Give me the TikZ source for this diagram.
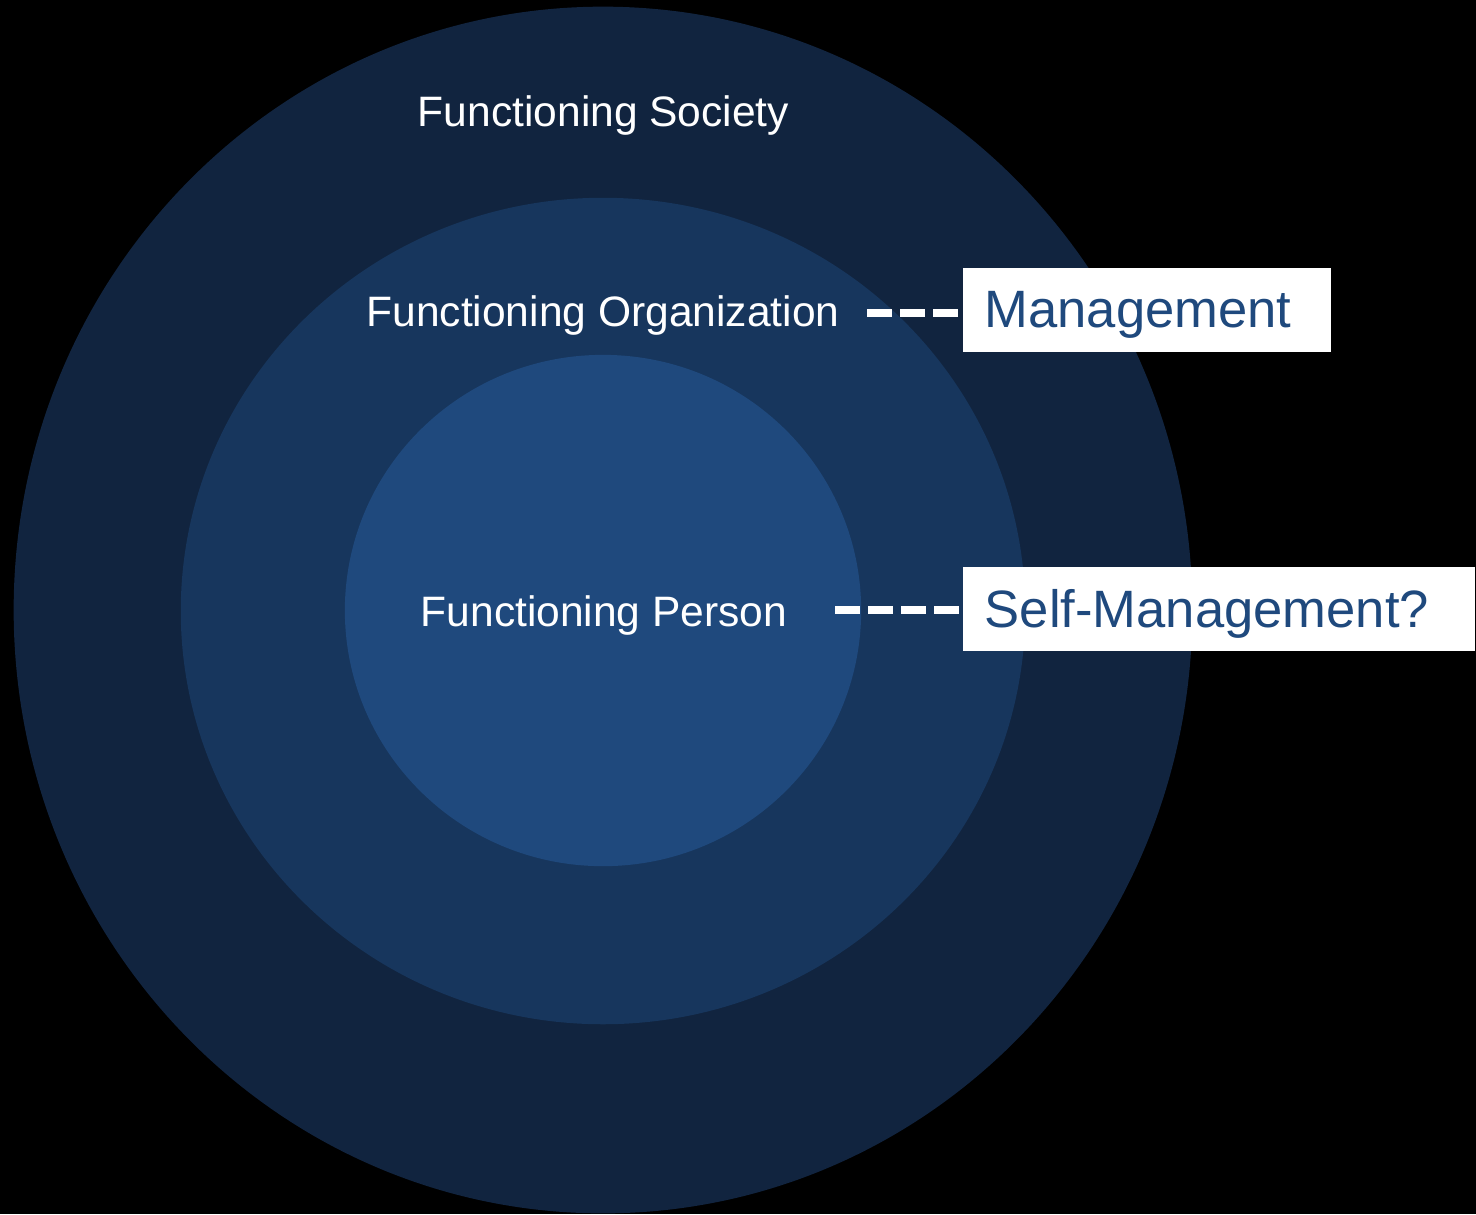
\documentclass[tikz,border=0pt]{standalone}
\usepackage{fontspec}
\setmainfont{Liberation Sans}
\usetikzlibrary{shapes.geometric}
\definecolor{ringA}{HTML}{11243F}
\definecolor{ringB}{HTML}{17365D}
\definecolor{ringC}{HTML}{1F497D}
\definecolor{boxtext}{HTML}{1F497D}
\tikzset{
  ring/.style={ellipse, inner sep=0pt, draw=none},
  ringlabel/.style={text=white, font=\fontsize{12.1}{14}\selectfont, anchor=base, inner sep=0pt},
  tagbox/.style={fill=white, draw=none, text=boxtext, font=\fontsize{14.95}{17}\selectfont,
    anchor=north west, align=left, inner xsep=0.22cm, inner ysep=0pt, minimum height=0.84cm, text depth=0pt},
  dashlink/.style={white, line width=0.08cm, dash pattern=on 0.25cm off 0.08cm}
}
\begin{document}
\begin{tikzpicture}[x=0.01cm, y=-0.01cm]
\fill[black] (0,0) rectangle (1476,1214);
\useasboundingbox (0,0) rectangle (1476,1214);
\node[ring, fill=ringA, minimum width=11.78cm, minimum height=12.06cm] (society) at (603,610) {};
\node[ring, fill=ringB, minimum width=8.44cm, minimum height=8.26cm] (organization) at (603,611) {};
\node[ring, fill=ringC, minimum width=5.16cm, minimum height=5.11cm] (person) at (603,610.5) {};
\node[ringlabel] (lsoc) at (603.5,126) {Functioning Society};
\node[ringlabel] (lorg) at (603,326) {Functioning Organization};
\node[ringlabel] (lper) at (604,626) {Functioning Person};
\node[tagbox, text width=3.24cm] (mgmt) at (962,267) {Management};
\node[tagbox, text width=4.68cm] (selfm) at (962,566) {Self-Management?};
\coordinate (orgstart) at (867,312.5);
\coordinate (perstart) at (835,610);
\draw[dashlink] (orgstart) -- (orgstart -| mgmt.west);
\draw[dashlink] (perstart) -- (perstart -| selfm.west);
\end{tikzpicture}
\end{document}
